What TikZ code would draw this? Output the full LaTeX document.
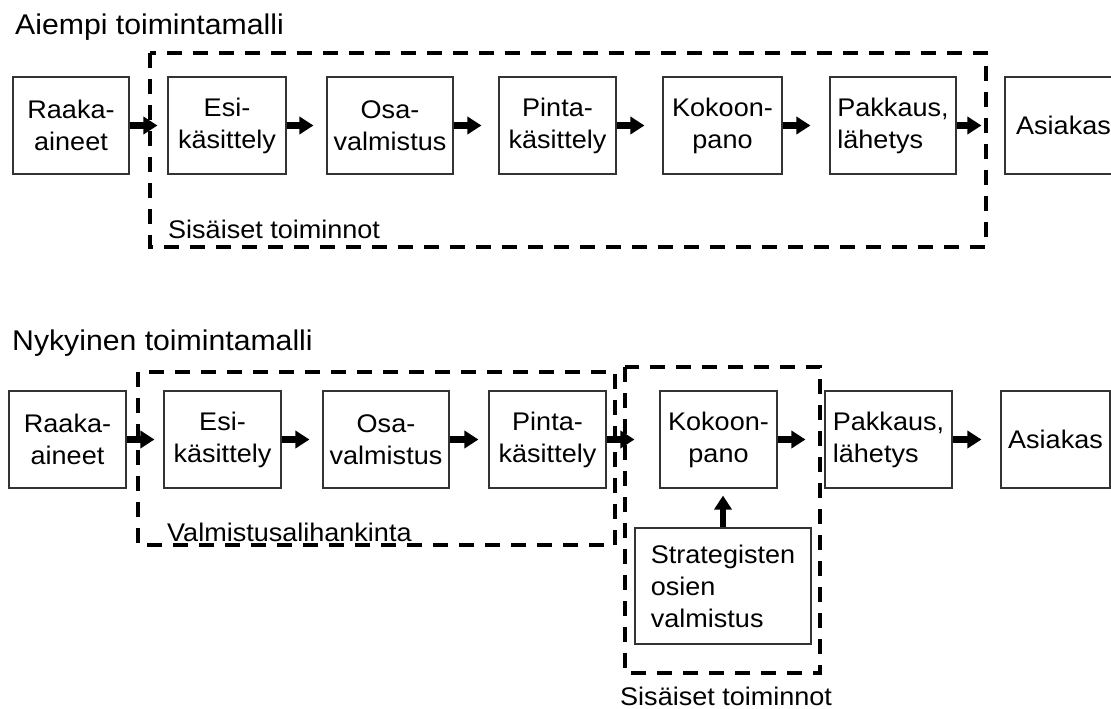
\documentclass[tikz,border=0pt]{standalone}
\usepackage{fontspec}
\setmainfont{Liberation Sans}[FakeStretch=1.06]
\usetikzlibrary{arrows.meta}
\begin{document}
\begin{tikzpicture}[x=1pt,y=-1pt,
  stage/.style={draw=black!80, line width=1.1pt, inner sep=0pt, minimum height=97pt,
    align=center, font=\fontsize{25.5}{32}\selectfont},
  flow/.style={line width=6.5pt, -{Triangle[length=14pt,width=17pt]}},
  region/.style={line width=4.2pt, dash pattern=on 15pt off 11pt, line join=miter},
  heading/.style={font=\fontsize{28.5}{34}\selectfont, anchor=base west, inner sep=0pt},
  tag/.style={font=\fontsize{25.5}{32}\selectfont, anchor=base west, inner sep=0pt}]
\useasboundingbox (0,0) rectangle (1111,709);
\clip (0,0) rectangle (1111,709);

% ---------- former operating model ----------
\node[heading] (t1) at (15,35) {Aiempi toimintamalli};

\node[stage, minimum width=116pt] (r1) at (71,125.5)   {Raaka-\\aineet};
\node[stage, minimum width=118pt] (r2) at (227,125.5)  {Esi-\\käsittely};
\node[stage, minimum width=126pt] (r3) at (390,125.5)  {Osa-\\valmistus};
\node[stage, minimum width=117pt] (r4) at (557.5,125.5) {Pinta-\\käsittely};
\node[stage, minimum width=119pt] (r5) at (722.5,125.5) {Kokoon-\\pano};
\node[stage, minimum width=126pt, align=left] (r6) at (893,125.5) {Pakkaus,\\lähetys};
\node[stage, minimum width=117pt] (r7) at (1063.5,125.5) {Asiakas};

\draw[flow, shorten >=10pt] (r1.east) -- (r2.west);
\draw[flow, shorten >=13pt] (r2.east) -- (r3.west);
\draw[flow, shorten >=17pt] (r3.east) -- (r4.west);
\draw[flow, shorten >=18pt] (r4.east) -- (r5.west);
\draw[flow, shorten >=19pt] (r5.east) -- (r6.west);
\draw[flow, shorten >=23pt] (r6.east) -- (r7.west);

\draw[region] (150,53) rectangle (986,247);
\node[tag] (l1) at (168,238) {Sisäiset toiminnot};

% ---------- current operating model ----------
\node[heading] (t2) at (12,350) {Nykyinen toimintamalli};

\node[stage, minimum width=117pt] (b1) at (67.5,439.5)  {Raaka-\\aineet};
\node[stage, minimum width=117pt] (b2) at (222.5,439.5) {Esi-\\käsittely};
\node[stage, minimum width=126pt] (b3) at (386,439.5)   {Osa-\\valmistus};
\node[stage, minimum width=117pt] (b4) at (547.5,439.5) {Pinta-\\käsittely};
\node[stage, minimum width=117pt] (b5) at (718.5,439.5) {Kokoon-\\pano};
\node[stage, minimum width=127pt, align=left] (b6) at (888.5,439.5) {Pakkaus,\\lähetys};
\node[stage, minimum width=109pt] (b7) at (1055.5,439.5) {Asiakas};
\node[stage, minimum width=176pt, minimum height=116pt, align=left] (s) at (723,586)
  {Strategisten\\osien\\valmistus};

\draw[flow, shorten >=9pt]  (b1.east) -- (b2.west);
\draw[flow, shorten >=13pt] (b2.east) -- (b3.west);
\draw[flow, shorten >=10pt] (b3.east) -- (b4.west);
\draw[flow, shorten >=25pt] (b4.east) -- (b5.west);
\draw[flow, shorten >=19pt] (b5.east) -- (b6.west);
\draw[flow, shorten >=19pt] (b6.east) -- (b7.west);
\draw[flow, shorten >=7pt]  (s.north) -- (s.north |- b5.south);

\draw[region] (138,372) rectangle (615,545);
\node[tag] (l2) at (167,541) {Valmistusalihankinta};

\draw[region] (625,367) rectangle (820,673);
\node[tag] (l3) at (620,705) {Sisäiset toiminnot};
\end{tikzpicture}
\end{document}
